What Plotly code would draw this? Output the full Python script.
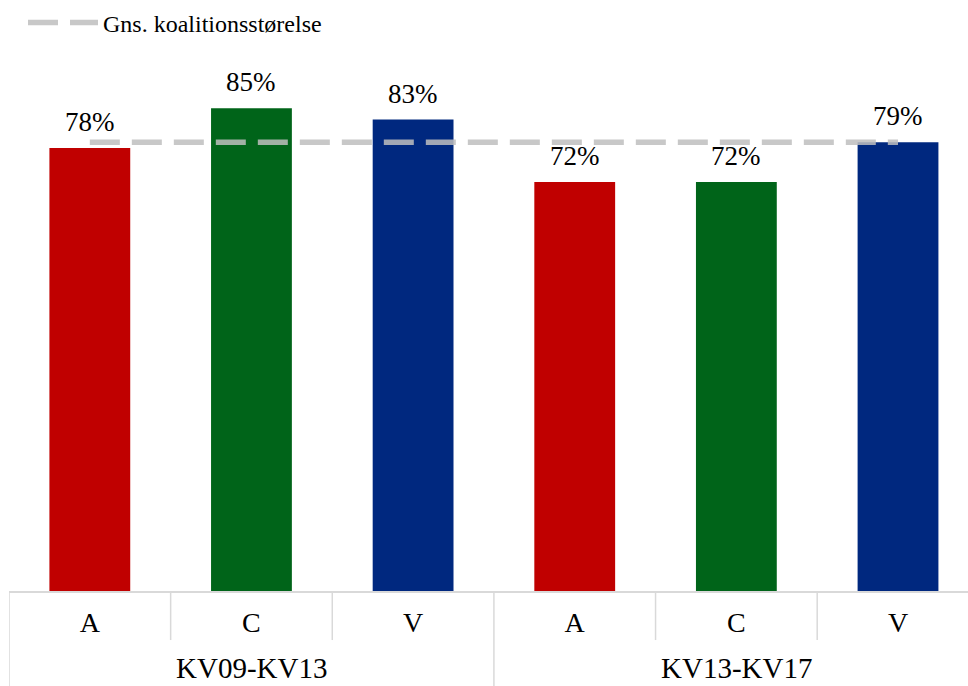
import plotly.graph_objects as go

# Coalition size by party and election period
periods = ["KV09-KV13", "KV13-KV17"]
parties = ["A", "C", "V"]
values = [78, 85, 83, 72, 72, 79]          # percent, in period/party order
avg_value = 79                              # average coalition size (percent)
avg_label = "Gns. koalitionsstørelse"
party_colors = {"A": "#C00000", "C": "#006419", "V": "#00287F"}

font_family = "Liberation Serif"
grid_color = "#D9D9D9"

n = len(periods) * len(parties)
xs = list(range(n))
tick_text = [p for _ in periods for p in parties]
bar_colors = [party_colors[p] for p in tick_text]

fig = go.Figure()
fig.add_trace(go.Bar(
    x=xs, y=values, width=0.5,
    marker=dict(color=bar_colors, line=dict(width=0)),
    showlegend=False, hoverinfo="skip",
))
fig.add_trace(go.Scatter(
    x=[xs[0], xs[-1]], y=[avg_value, avg_value], mode="lines",
    name=avg_label,
    line=dict(color="rgba(190,190,190,0.85)", width=5.5, dash="30px,12px"),
    hoverinfo="skip",
))

annotations = []
# Value labels above each bar
for x, v in zip(xs, values):
    annotations.append(dict(
        x=x, y=v, xref="x", yref="y", text=f"{v}%",
        showarrow=False, yanchor="middle", yshift=26,
        font=dict(family=font_family, size=27, color="#000000"),
    ))

# Table-style divider lines beneath the axis
shapes = []
group_size = len(parties)
for i in range(n + 1):
    outer = i % group_size == 0
    shapes.append(dict(
        type="line", xref="x", yref="paper",
        x0=i - 0.5, x1=i - 0.5, y0=0, y1=-0.175 if outer else -0.089,
        line=dict(color=grid_color, width=1.5), layer="below",
    ))

# Period labels centred under each group
for g, name in enumerate(periods):
    center = g * group_size + (group_size - 1) / 2
    annotations.append(dict(
        x=center, y=-0.139, xref="x", yref="paper", text=name,
        showarrow=False, yanchor="middle", borderpad=0,
        font=dict(family=font_family, size=29, color="#000000"),
    ))

fig.update_layout(
    width=968, height=686,
    margin=dict(l=9, r=0, t=40, b=95),
    plot_bgcolor="#FFFFFF", paper_bgcolor="#FFFFFF",
    font=dict(family=font_family, color="#000000"),
    showlegend=True,
    legend=dict(
        x=0.0146, y=1.031, xanchor="left", yanchor="middle",
        orientation="h", itemwidth=70,
        font=dict(family=font_family, size=24, color="#000000"),
        bgcolor="rgba(0,0,0,0)",
    ),
    shapes=shapes,
    annotations=annotations,
    xaxis=dict(
        range=[-0.5, 5.433], tickvals=xs, ticktext=tick_text,
        showline=True, linecolor=grid_color, linewidth=1.5,
        showgrid=False, zeroline=False, ticks="",
        ticklabelstandoff=6,
        tickfont=dict(family=font_family, size=28, color="#000000"),
        fixedrange=True,
    ),
    yaxis=dict(
        range=[0, 97], visible=False, showgrid=False, zeroline=False,
        fixedrange=True,
    ),
)

fig.write_html("out.html")
